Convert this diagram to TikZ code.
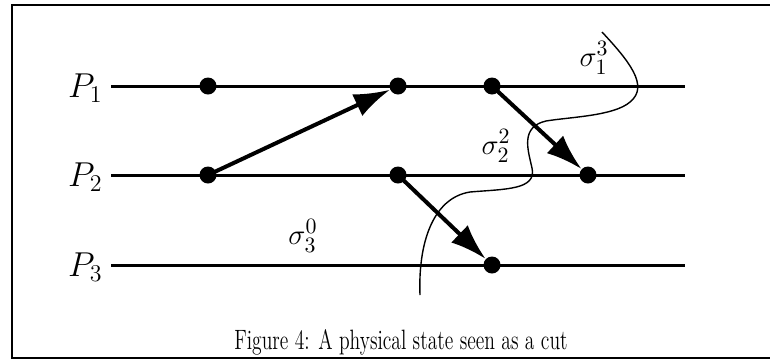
\documentclass[tikz,border=0pt]{standalone}
\usepackage{amsmath}
\usepackage{tikz}
\usetikzlibrary{positioning, arrows.meta}

\begin{document}
\begin{tikzpicture}[
        x=0.5pt, y=-0.5pt,
        every node/.style={align=center},
        frame/.style={draw=black, line width=1pt},
        proc/.style={draw=black, line width=1.5pt},
        plabel/.style={anchor=east, inner sep=4pt, font=\fontsize{18}{20}\selectfont},
        ev/.style={circle, fill=black, inner sep=0pt, minimum size=8.5pt},
        msg/.style={-{Latex[length=18pt,width=12pt]}, line width=2pt, draw=black, shorten <=-2pt},
        cut/.style={draw=black, line width=0.7pt},
        slabel/.style={font=\fontsize{15}{17}\selectfont}
    ]
    \useasboundingbox (0,0) rectangle (770,360);

    % frame (open on the right)
    \draw[frame] (770,5) -- (12,5) -- (12,358) -- (770,358);

    % 1. Process labels and time lines
    \node[plabel] (P1) at (111,88) {$P_1$};
    \node[plabel] (P2) at (111,177) {$P_2$};
    \node[plabel] (P3) at (111,267) {$P_3$};
    \coordinate (end1) at (685,86);
    \coordinate (end2) at (685,175);
    \coordinate (end3) at (685,265);
    \draw[proc] (P1.east |- end1) -- (end1);
    \draw[proc] (P2.east |- end2) -- (end2);
    \draw[proc] (P3.east |- end3) -- (end3);

    % 2. Events
    \node[ev] (a1) at (208,86) {};
    \node[ev] (a2) at (398,86) {};
    \node[ev] (a3) at (492,86) {};
    \node[ev] (b1) at (208,175) {};
    \node[ev] (b2) at (398,175) {};
    \node[ev] (b3) at (588,175) {};
    \node[ev] (c1) at (492,265) {};

    % 3. Messages
    \draw[msg] (b1) -- (a2);
    \draw[msg] (a3) -- (b3);
    \draw[msg] (b2) -- (c1);

    % 4. The cut
    \coordinate (cuttop) at (602,32);
    \coordinate (cutbot) at (420,295);
    \draw[cut] (cuttop) .. controls (628,60) and (650,86) .. (630,102)
        .. controls (614,116) and (570,117) .. (546,121)
        .. controls (520,127) and (528,150) .. (532,168)
        .. controls (537,190) and (505,189) .. (470,192)
        .. controls (432,198) and (418,245) .. (cutbot);

    % local states
    \node[slabel] (s13) at (594,58) {$\sigma_1^3$};
    \node[slabel] (s22) at (496,146) {$\sigma_2^2$};
    \node[slabel] (s30) at (303,236) {$\sigma_3^0$};

    % caption
    \node (cap) at (401,342) {\scalebox{0.7}[1]{\fontsize{14}{16}\selectfont Figure 4: A physical state seen as a cut}};

\end{tikzpicture}
\end{document}
